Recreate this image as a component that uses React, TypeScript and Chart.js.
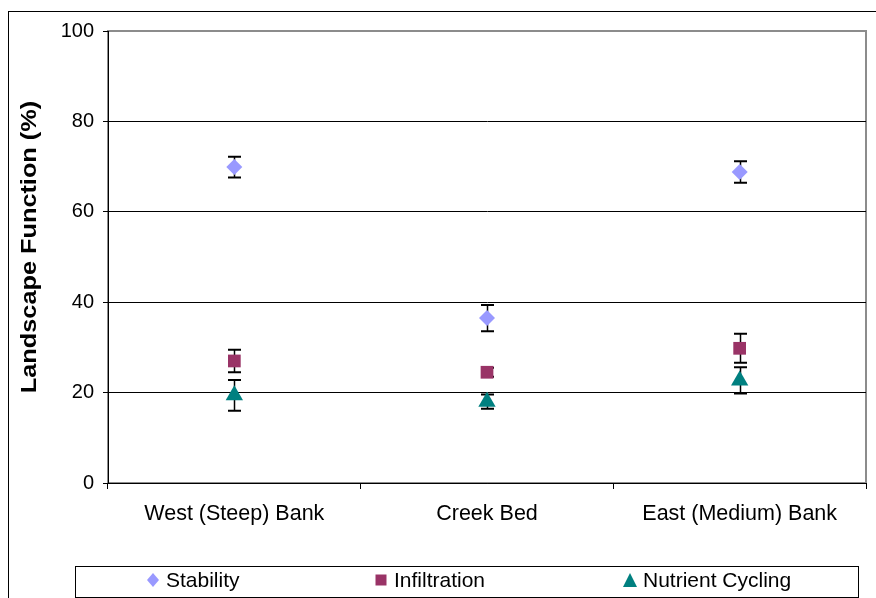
import React, { useEffect, useRef } from "react";
import { Chart, registerables } from "chart.js";

Chart.register(...registerables);

const categories = ["West (Steep) Bank", "Creek Bed", "East (Medium) Bank"];
const seriesNames = ["Stability", "Infiltration", "Nutrient Cycling"];
const stability = [69.9, 36.5, 68.8];
const stabilityErr = [2.3, 2.9, 2.4];
const infiltration = [27.0, 24.5, 29.8];
const infiltrationErr = [2.5, 1.0, 3.2];
const nutrient = [19.4, 18.0, 22.7];
const nutrientErr = [3.4, 1.6, 2.9];
const yTicks = [0, 20, 40, 60, 80, 100];
const yTitle = "Landscape Function (%)";

const colors = ["#9999FF", "#993366", "#008080"];
const FONT = "'Liberation Sans', Arial, sans-serif";

const errors = [stabilityErr, infiltrationErr, nutrientErr];

const errorBarPlugin = {
  id: "errorBars",
  beforeDatasetsDraw(chart: any) {
    const ctx = chart.ctx;
    const ys = chart.scales.y;
    ctx.save();
    ctx.strokeStyle = "#000";
    chart.data.datasets.forEach((ds: any, i: number) => {
      const meta = chart.getDatasetMeta(i);
      meta.data.forEach((pt: any, j: number) => {
        const v = ds.data[j];
        const e = errors[i][j];
        const x = Math.round(pt.x) + 0.5;
        const yt = ys.getPixelForValue(v + e);
        const yb = ys.getPixelForValue(v - e);
        ctx.lineWidth = 1.5;
        ctx.beginPath();
        ctx.moveTo(x, yt);
        ctx.lineTo(x, yb);
        ctx.stroke();
        ctx.lineWidth = 2;
        ctx.beginPath();
        ctx.moveTo(x - 6.5, yt);
        ctx.lineTo(x + 6.5, yt);
        ctx.moveTo(x - 6.5, yb);
        ctx.lineTo(x + 6.5, yb);
        ctx.stroke();
      });
    });
    ctx.restore();
  },
};

const framePlugin = {
  id: "frame",
  beforeDraw(chart: any) {
    const ctx = chart.ctx;
    const a = chart.chartArea;
    ctx.save();
    ctx.fillStyle = "#fff";
    ctx.fillRect(0, 0, chart.width, chart.height);
    ctx.strokeStyle = "#000";
    ctx.lineWidth = 1;
    ctx.strokeRect(8.5, 11.5, 1000, 1000);
    ctx.strokeStyle = "#8c8c8c";
    ctx.lineWidth = 2;
    ctx.strokeRect(a.left, a.top, a.right - a.left, a.bottom - a.top);
    ctx.restore();
  },
  afterDraw(chart: any) {
    const ctx = chart.ctx;
    ctx.save();
    ctx.translate(30, 247);
    ctx.rotate(-Math.PI / 2);
    ctx.scale(1.15, 1);
    ctx.fillStyle = "#000";
    ctx.font = `bold 22px ${FONT}`;
    ctx.textAlign = "center";
    ctx.textBaseline = "middle";
    ctx.fillText(yTitle, 0, 0);
    ctx.restore();

    ctx.save();
    ctx.strokeStyle = "#000";
    ctx.lineWidth = 1;
    ctx.strokeRect(75.5, 566.5, 783, 31);
    const cy = 580;
    const markerX = [153, 381, 630];
    ctx.font = `21px ${FONT}`;
    ctx.textBaseline = "middle";
    ctx.textAlign = "left";
    seriesNames.forEach((name, i) => {
      const mx = markerX[i];
      ctx.fillStyle = colors[i];
      ctx.beginPath();
      if (i === 0) {
        ctx.moveTo(mx, cy - 7);
        ctx.lineTo(mx + 6, cy);
        ctx.lineTo(mx, cy + 7);
        ctx.lineTo(mx - 6, cy);
      } else if (i === 1) {
        ctx.rect(mx - 5.5, cy - 5.5, 11, 11);
      } else {
        ctx.moveTo(mx, cy - 7);
        ctx.lineTo(mx + 7, cy + 7);
        ctx.lineTo(mx - 7, cy + 7);
      }
      ctx.closePath();
      ctx.fill();
      ctx.fillStyle = "#000";
      ctx.fillText(name, mx + 13, cy + 1);
    });
    ctx.restore();
  },
};

export default function App() {
  const ref = useRef<HTMLCanvasElement>(null);
  useEffect(() => {
    if (!ref.current) return;
    const pointStyles = ["rectRot", "rect", "triangle"];
    const radii = [8, 9, 10];
    const data = [stability, infiltration, nutrient];
    const chart = new Chart(ref.current, {
      type: "line",
      data: {
        labels: categories,
        datasets: seriesNames.map((name, i) => ({
          label: name,
          data: data[i],
          showLine: false,
          pointStyle: pointStyles[i] as any,
          pointRadius: radii[i],
          pointBackgroundColor: colors[i],
          pointBorderColor: colors[i],
          pointBorderWidth: 0,
        })),
      },
      options: {
        responsive: false,
        animation: false,
        devicePixelRatio: 1,
        layout: { padding: { left: 0, top: 31, right: 10, bottom: 0 } },
        plugins: {
          legend: { display: false },
          tooltip: { enabled: false },
        },
        scales: {
          x: {
            type: "category",
            offset: true,
            afterFit(scale: any) {
              scale.height = 115;
            },
            grid: {
              offset: true,
              drawOnChartArea: false,
              tickLength: 6,
              tickColor: "#000",
              tickWidth: 1,
            },
            border: { color: "#000", width: 1 },
            ticks: {
              color: "#000",
              font: { family: FONT, size: 21.5 },
              padding: 12,
              maxRotation: 0,
            },
          },
          y: {
            min: 0,
            max: 100,
            afterFit(scale: any) {
              scale.width = 108;
            },
            afterBuildTicks(scale: any) {
              scale.ticks = yTicks.map((v) => ({ value: v }));
            },
            grid: {
              color: (c: any) => (c.tick && c.tick.value === 100 ? "rgba(0,0,0,0)" : "#000"),
              tickColor: "#000",
              tickLength: 5,
              lineWidth: 1,
            },
            border: { color: "#000", width: 1 },
            ticks: {
              color: "#000",
              font: { family: FONT, size: 20 },
              padding: 9,
            },
          },
        },
      },
      plugins: [framePlugin, errorBarPlugin],
    });
    return () => chart.destroy();
  }, []);
  return (
    <div style={{ position: "fixed", left: 0, top: 0, width: 876, height: 598 }}>
      <canvas ref={ref} width={876} height={598} style={{ display: "block" }} />
    </div>
  );
}
